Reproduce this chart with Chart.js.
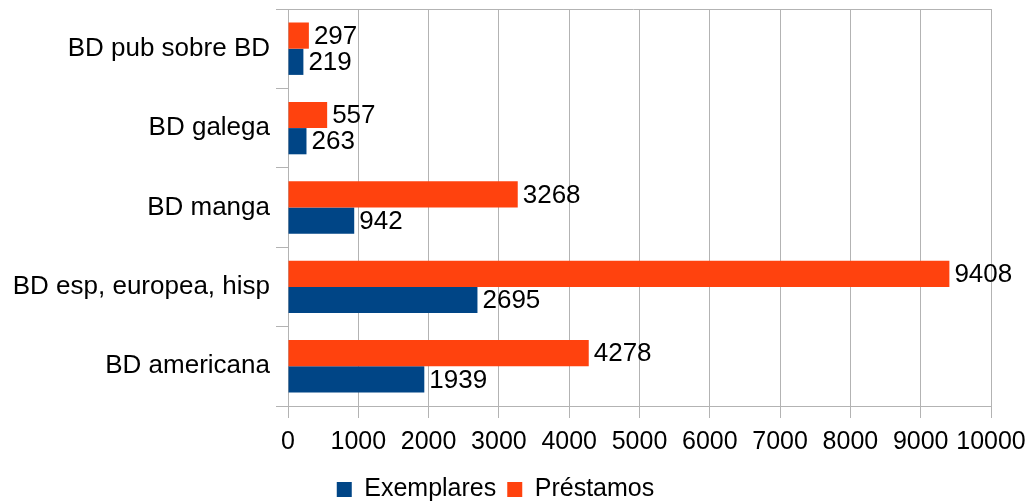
<!DOCTYPE html>
<html>
<head>
<meta charset="utf-8">
<script src="https://cdn.jsdelivr.net/npm/chart.js@4/dist/chart.umd.min.js"></script>
<style>
  html, body { margin: 0; padding: 0; background: #fff; }
  #wrap { width: 1030px; height: 504px; }
</style>
</head>
<body>
<div id="wrap"><canvas id="chart" width="1030" height="504"></canvas></div>
<script>
// Datos del gráfico
const categorias = ['BD pub sobre BD', 'BD galega', 'BD manga', 'BD esp, europea, hisp', 'BD americana'];
const exemplares = [219, 263, 942, 2695, 1939];
const prestamos = [297, 557, 3268, 9408, 4278];
const ticksX = [0, 1000, 2000, 3000, 4000, 5000, 6000, 7000, 8000, 9000, 10000];

const fuente = 'Liberation Sans, Arial, sans-serif';

// Etiquetas con el valor al final de cada barra
const etiquetas = {
  id: 'etiquetas',
  afterDatasetsDraw(chart) {
    const ctx = chart.ctx;
    ctx.save();
    ctx.font = '26px ' + fuente;
    ctx.fillStyle = '#000';
    ctx.textBaseline = 'middle';
    ctx.textAlign = 'left';
    chart.data.datasets.forEach((ds, i) => {
      chart.getDatasetMeta(i).data.forEach((bar, j) => {
        ctx.fillText(String(ds.data[j]), bar.x + 5, bar.y + 1);
      });
    });
    ctx.restore();
  }
};

// Línea superior del área del gráfico
const bordeSuperior = {
  id: 'bordeSuperior',
  afterDraw(chart) {
    const a = chart.chartArea;
    const ctx = chart.ctx;
    ctx.save();
    ctx.strokeStyle = '#b3b3b3';
    ctx.lineWidth = 1;
    ctx.beginPath();
    ctx.moveTo(a.left - 12, Math.round(a.top) + 0.5);
    ctx.lineTo(a.right, Math.round(a.top) + 0.5);
    ctx.stroke();
    ctx.restore();
  }
};

document.addEventListener('DOMContentLoaded', function () {
  const ctx = document.getElementById('chart').getContext('2d');
  new Chart(ctx, {
    type: 'bar',
    data: {
      labels: categorias,
      datasets: [
        {
          label: 'Préstamos',
          data: prestamos,
          backgroundColor: '#ff420e',
          categoryPercentage: 0.66,
          barPercentage: 1.0
        },
        {
          label: 'Exemplares',
          data: exemplares,
          backgroundColor: '#004586',
          categoryPercentage: 0.66,
          barPercentage: 1.0
        }
      ]
    },
    options: {
      indexAxis: 'y',
      responsive: false,
      animation: false,
      layout: { padding: { top: 9, right: 39, left: 0, bottom: 0 } },
      scales: {
        x: {
          min: 0,
          max: 10000,
          afterBuildTicks(scale) {
            scale.ticks = ticksX.map(v => ({ value: v }));
          },
          afterFit(scale) {
            scale.height = 60;
            scale.paddingLeft = 0;
            scale.paddingRight = 0;
          },
          grid: { color: '#b3b3b3', tickLength: 12 },
          border: { color: '#b3b3b3' },
          ticks: {
            color: '#000',
            font: { size: 25, family: fuente },
            padding: 9,
            maxRotation: 0,
            autoSkip: false,
            callback: v => String(v)
          }
        },
        y: {
          afterFit(scale) {
            scale.width = 288;
            scale.paddingTop = 0;
            scale.paddingBottom = 0;
          },
          grid: {
            color: '#b3b3b3',
            offset: true,
            drawOnChartArea: false,
            tickLength: 12
          },
          border: { color: '#b3b3b3' },
          ticks: {
            color: '#000',
            font: { size: 26, family: fuente },
            padding: 6
          }
        }
      },
      plugins: {
        legend: {
          position: 'bottom',
          maxHeight: 38,
          labels: {
            color: '#000',
            font: { size: 25, family: fuente, lineHeight: 1 },
            boxWidth: 15,
            boxHeight: 15,
            padding: 11,
            sort: (a, b) => b.datasetIndex - a.datasetIndex
          }
        },
        tooltip: { enabled: false }
      }
    },
    plugins: [etiquetas, bordeSuperior]
  });
});
</script>
</body>
</html>
